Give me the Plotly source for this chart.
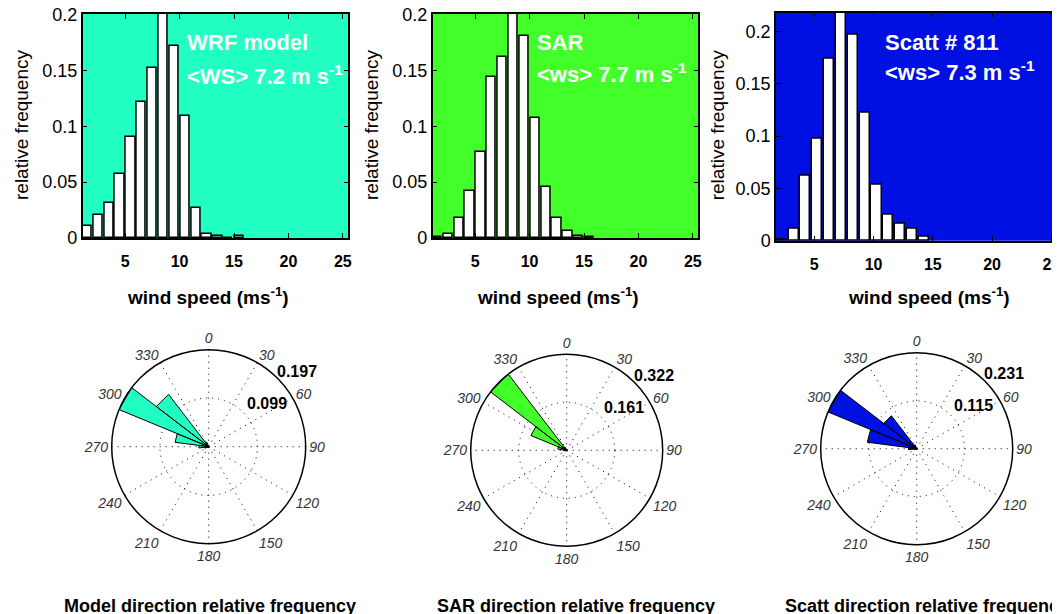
import plotly.graph_objects as go

# ---------------- data ----------------
wrf_ws = [1.5, 2.5, 3.5, 4.5, 5.5, 6.5, 7.5, 8.5, 9.5, 10.5, 11.5, 12.5, 13.5, 14.5, 15.5]
wrf_freq = [0.011, 0.021, 0.031, 0.057, 0.090, 0.122, 0.152, 0.205, 0.172, 0.109, 0.027, 0.004, 0.0015, 0.0, 0.0015]

sar_ws = [1.5, 2.5, 3.5, 4.5, 5.5, 6.5, 7.5, 8.5, 9.5, 10.5, 11.5, 12.5, 13.5, 14.5, 15.5]
sar_freq = [0.0008, 0.0035, 0.018, 0.042, 0.077, 0.144, 0.162, 0.210, 0.181, 0.107, 0.046, 0.018, 0.0065, 0.002, 0.0006]

scatt_ws = [2.25, 3.25, 4.25, 5.25, 6.25, 7.25, 8.25, 9.25, 10.25, 11.25, 12.25, 13.25, 14.25]
scatt_freq = [0.0013, 0.0115, 0.062, 0.098, 0.1745, 0.225, 0.1965, 0.1226, 0.054, 0.0248, 0.0159, 0.0115, 0.0038]

x_ticks = [5, 10, 15, 20, 25]
y_ticks = [0, 0.05, 0.1, 0.15, 0.2]
y_ticklabels = ["0", "0.05", "0.1", "0.15", "0.2"]

dir_bins = [255, 270, 285, 300, 315, 330]          # bin centres (deg, compass)
dir_bin_width = 15
wrf_dir = [0.008, 0.020, 0.069, 0.197, 0.134, 0.010]
sar_dir = [0.004, 0.010, 0.030, 0.130, 0.322, 0.010]
scatt_dir = [0.006, 0.020, 0.120, 0.231, 0.100, 0.010]

wrf_rings = [0.099, 0.197]
sar_rings = [0.161, 0.322]
scatt_rings = [0.115, 0.231]

angle_ticks = list(range(0, 360, 30))

hist_titles = [["WRF model", "&lt;WS&gt; 7.2 m s<sup>-1</sup>"],
               ["SAR", "&lt;ws&gt; 7.7 m s<sup>-1</sup>"],
               ["Scatt # 811", "&lt;ws&gt; 7.3 m s<sup>-1</sup>"]]
rose_titles = ["Model direction relative frequency",
               "SAR direction relative frequency",
               "Scatt direction relative frequency"]

colors = ["#22FFC2", "#42FF2A", "#0010E2"]

# ---------------- layout geometry (page pixels) ----------------
OFF = 8                      # page body margin
W, H = 1060 - OFF, 614 - OFF
FONT = "Liberation Sans, Arial, sans-serif"


def px_x(p):
    return (p - OFF) / W


def px_y(p):
    return 1 - (p - OFF) / H


hist_boxes = [(82.7, 348.3, 14, 238), (432.7, 698.3, 14, 238), (776, 1058, 12.7, 240.7)]
hist_xranges = [[1.1, 25.5], [1.1, 25.5], [1.77, 25.56]]
hist_yranges = [[0, 0.2005], [0, 0.2005], [0, 0.218]]
rose_geom = [(208.7, 446.7, 97), (566.7, 450.3, 96), (916.7, 448.7, 96)]

fig = go.Figure()

hist_data = [(wrf_ws, wrf_freq), (sar_ws, sar_freq), (scatt_ws, scatt_freq)]
layout_upd = {}
annotations = []

for i, (xs, ys) in enumerate(hist_data):
    n = "" if i == 0 else str(i + 1)
    fig.add_trace(go.Bar(x=xs, y=ys, width=0.85, marker=dict(color="white", line=dict(color="black", width=1.5)),
                         xaxis="x" + n, yaxis="y" + n, showlegend=False))
    x0, x1, y0, y1 = hist_boxes[i]
    layout_upd["xaxis" + n] = dict(
        domain=[px_x(x0), px_x(x1)], anchor="y" + n, range=hist_xranges[i], automargin=False,
        tickvals=x_ticks, ticks="inside", ticklen=5, tickcolor="black",
        showline=True, linecolor="black", linewidth=1.5, mirror="ticks",
        showgrid=False, zeroline=False, ticklabelstandoff=8, ticklabeloverflow="allow",
        tickfont=dict(family=FONT, size=16, color="black", weight="bold"))
    layout_upd["yaxis" + n] = dict(
        domain=[px_y(y1), px_y(y0)], anchor="x" + n, range=hist_yranges[i], automargin=False,
        tickvals=y_ticks, ticktext=y_ticklabels, ticks="inside", ticklen=5, tickcolor="black",
        showline=True, linecolor="black", linewidth=1.5, mirror="ticks",
        showgrid=False, zeroline=False, ticklabeloverflow="allow",
        tickfont=dict(family=FONT, size=18, color="black"))
    # text in the panels
    tx = [185, 535, 882.7][i]
    ty = [(43, 75), (43, 73), (43, 71)][i]
    for line, yy in zip(hist_titles[i], ty):
        annotations.append(dict(text=line, x=px_x(tx), y=px_y(yy), xref="paper", yref="paper",
                                xanchor="left", yanchor="middle", showarrow=False,
                                font=dict(family=FONT, size=22, color="white", weight="bold")))
    # axis titles
    annotations.append(dict(text="wind speed (ms<sup>-1</sup>)", x=px_x([207.5, 557.5, 929][i]), y=px_y(296),
                            xref="paper", yref="paper", xanchor="center", yanchor="middle", showarrow=False,
                            font=dict(family=FONT, size=19, color="black", weight="bold")))
    annotations.append(dict(text="relative frequency", x=px_x([22, 372, 718.3][i]), y=px_y(125),
                            xref="paper", yref="paper", xanchor="center", yanchor="middle", showarrow=False,
                            textangle=-90, font=dict(family=FONT, size=19, color="black")))

# coloured panel backgrounds
shapes = []
for i in range(3):
    n = "" if i == 0 else str(i + 1)
    shapes.append(dict(type="rect", xref="x" + n + " domain", yref="y" + n + " domain", x0=0, x1=1, y0=0, y1=1,
                       fillcolor=colors[i], line=dict(width=0), layer="below"))

# ---------------- roses ----------------
rose_data = [wrf_dir, sar_dir, scatt_dir]
rings_all = [wrf_rings, sar_rings, scatt_rings]
for i, vals in enumerate(rose_data):
    pn = "polar" if i == 0 else "polar" + str(i + 1)
    th, rr = [], []
    for c, v in zip(dir_bins, vals):
        th += [c - dir_bin_width / 2, c - dir_bin_width / 2, c + dir_bin_width / 2, c + dir_bin_width / 2]
        rr += [0, v, v, 0]
    fig.add_trace(go.Scatterpolar(r=rr, theta=th, mode="lines", fill="toself", fillcolor=colors[i],
                                  line=dict(color="black", width=1), subplot=pn, showlegend=False))
    cx, cy, R = rose_geom[i]
    rmax = rings_all[i][1]
    layout_upd[pn] = dict(
        domain=dict(x=[px_x(cx - R), px_x(cx + R)], y=[px_y(cy + R), px_y(cy - R)]),
        bgcolor="white",
        radialaxis=dict(range=[0, rmax], tickvals=rings_all[i], showticklabels=False, ticks="",
                        showline=False, gridcolor="black", griddash="1px,5px", gridwidth=1),
        angularaxis=dict(rotation=90, direction="clockwise", tickvals=angle_ticks,
                         ticktext=[str(a) for a in angle_ticks], ticks="",
                         showline=True, linecolor="black", linewidth=1.5,
                         gridcolor="black", griddash="1px,5px", gridwidth=1,
                         tickfont=dict(family=FONT, size=14, color="#333333", style="italic")))
    # ring labels
    for ring, (fx, fy) in zip(rings_all[i], [(0.37, 0.45), (0.68, 0.78)]):
        annotations.append(dict(text="%.3f" % ring, x=px_x(cx + fx * R), y=px_y(cy - fy * R),
                                xref="paper", yref="paper", xanchor="left", yanchor="middle", showarrow=False,
                                font=dict(family=FONT, size=16, color="black", weight="bold")))
    annotations.append(dict(text=rose_titles[i], x=px_x([209.5, 576, 927][i]), y=px_y(594),
                            xref="paper", yref="paper", xanchor="center", yanchor="top", showarrow=False,
                            font=dict(family=FONT, size=18, color="black", weight="bold")))

fig.update_layout(**layout_upd)
fig.update_layout(width=W, height=H, margin=dict(l=0, r=0, t=0, b=0, autoexpand=False), paper_bgcolor="white",
                  plot_bgcolor="rgba(0,0,0,0)", showlegend=False, bargap=0,
                  annotations=annotations, shapes=shapes)

fig.write_html("out.html")
